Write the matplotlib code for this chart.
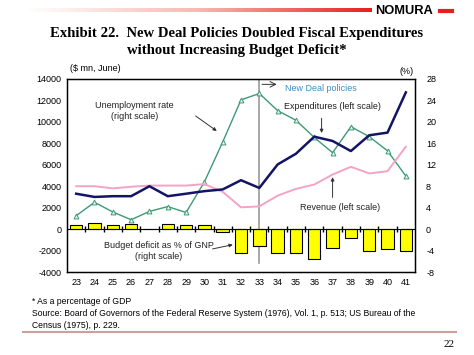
import numpy as np
import matplotlib
matplotlib.use('Agg')
import matplotlib.pyplot as plt
from matplotlib.colors import LinearSegmentedColormap

plt.rcParams['axes.unicode_minus'] = False

years = np.arange(23, 42)
expenditures = [3300, 3000, 3070, 3070, 4000, 3070, 3300, 3540, 3700, 4560, 3840,
                6030, 7030, 8620, 8220, 7280, 8750, 9000, 12750]
revenue = [4000, 4000, 3800, 3950, 4060, 4060, 4060, 4200, 3470, 2030, 2120,
           3120, 3750, 4160, 5090, 5810, 5190, 5400, 7690]
unemployment = [2.5, 5.0, 3.2, 1.75, 3.3, 4.2, 3.1, 8.8, 16.25, 24.1, 25.3,
                22.1, 20.3, 17.1, 14.25, 19.1, 17.25, 14.6, 9.9]
deficit = [0.8, 1.1, 0.8, 0.9, 0.05, 0.9, 0.7, 0.8, -0.6, -4.4, -3.1,
           -4.5, -4.5, -5.6, -3.6, -1.6, -4.0, -3.7, -4.1]

sans = 'Liberation Sans'
serif = 'Liberation Serif'

fig = plt.figure(figsize=(4.74, 3.55), dpi=100)

# header: gradient rule + logo
gax = fig.add_axes([0.06, 0.965, 0.725, 0.012])
grad = np.linspace(0, 1, 256).reshape(1, -1)
cm = LinearSegmentedColormap.from_list('rule', ['#ffffff', '#f7b8b0', '#e8201c'])
gax.imshow(grad, aspect='auto', cmap=cm)
gax.axis('off')
fig.text(0.791, 0.968, 'NOMURA', family=sans, weight='bold', fontsize=9.3, va='center')
fig.add_artist(plt.Line2D([0.928, 0.953], [0.969, 0.969], color='#e8201c', lw=3,
                          transform=fig.transFigure))

fig.text(0.5, 0.905, 'Exhibit 22.  New Deal Policies Doubled Fiscal Expenditures',
         family=serif, weight='bold', fontsize=10.6, ha='center', va='center')
fig.text(0.5, 0.857, 'without Increasing Budget Deficit*',
         family=serif, weight='bold', fontsize=10.6, ha='center', va='center')

ax = fig.add_axes([0.1414, 0.2338, 0.7341, 0.5437])
ax2 = ax.twinx()

ax.set_xlim(22.5, 41.5)
ax.set_ylim(-4000, 14000)
ax2.set_ylim(-8, 28)
ax.set_yticks(np.arange(-4000, 14001, 2000))
ax2.set_yticks(np.arange(-8, 29, 4))
ax.set_xticks(years)
ax.set_xticklabels([str(y) for y in years])
for a in (ax, ax2):
    a.tick_params(labelsize=6.5, length=0, pad=4)
    for lab in a.get_yticklabels() + a.get_xticklabels():
        lab.set_family(sans)
ax2.tick_params(pad=8)
for s in ax.spines.values():
    s.set_linewidth(1.0)

ax.axhline(0, color='black', lw=0.8, zorder=1)
ax.plot(years[:-1] + 0.5, [0] * (len(years) - 1), linestyle='none', marker='|',
        color='black', markersize=4, zorder=3)

ax2.bar(years, deficit, width=0.68, color='#ffff00', edgecolor='black', linewidth=0.8, zorder=2)

ax.plot(years, revenue, color='#f4a3c6', lw=1.4, zorder=4)
ax.plot(years, expenditures, color='#141466', lw=1.8, zorder=5)
ax2.plot(years, unemployment, color='#3d9a76', lw=1.0, marker='^', markersize=3.5,
         markerfacecolor='#e8f4ee', markeredgecolor='#3d9a76', markeredgewidth=0.7, zorder=6)

ax.set_zorder(ax2.get_zorder() + 1)
ax.patch.set_visible(False)

# New Deal marker
ax2.plot([33, 33], [28, -6.25], color='#999999', lw=1.2, zorder=1)
ax2.annotate('', xy=(34.1, 27), xytext=(33, 27),
             arrowprops=dict(arrowstyle='->', color='#333333', lw=0.7))
ax2.text(34.4, 26.2, 'New Deal policies', color='#3a8fcc', fontsize=6.5, family=sans, va='center')

# annotations
kw = dict(fontsize=6.5, family=sans, ha='center', va='center', color='#222222')
ax.text(26.2, 11000, 'Unemployment rate\n(right scale)', **kw)
ax.annotate('', xy=(30.8, 9000), xytext=(29.4, 10700),
            arrowprops=dict(arrowstyle='-|>', color='#333333', lw=0.7, mutation_scale=5))
ax.text(37.0, 11400, 'Expenditures (left scale)', **kw)
ax.annotate('', xy=(36.4, 8700), xytext=(36.4, 10600),
            arrowprops=dict(arrowstyle='-|>', color='#333333', lw=0.7, mutation_scale=5))
ax.text(37.4, 2050, 'Revenue (left scale)', **kw)
ax.annotate('', xy=(37.0, 5100), xytext=(37.0, 2700),
            arrowprops=dict(arrowstyle='-|>', color='#333333', lw=0.7, mutation_scale=5))
ax.text(27.5, -2050, 'Budget deficit as % of GNP\n(right scale)', **kw)
ax.annotate('', xy=(31.7, -1400), xytext=(30.3, -1900),
            arrowprops=dict(arrowstyle='-|>', color='#333333', lw=0.7, mutation_scale=5))

fig.text(0.148, 0.808, '($ mn, June)', fontsize=6.5, family=sans, va='center')
fig.text(0.842, 0.800, '(%)', fontsize=6.5, family=sans, va='center')

# footer
fsz = 6.2
fig.text(0.068, 0.152, '* As a percentage of GDP', fontsize=fsz, family=sans, va='center')
fig.text(0.068, 0.117, 'Source: Board of Governors of the Federal Reserve System (1976), Vol. 1, p. 513; US Bureau of the',
         fontsize=fsz, family=sans, va='center')
fig.text(0.068, 0.083, 'Census (1975), p. 229.', fontsize=fsz, family=sans, va='center')
fig.add_artist(plt.Line2D([0.048, 0.962], [0.065, 0.065], color='#c9a09a', lw=1.5,
                          transform=fig.transFigure))
fig.text(0.948, 0.030, '22', fontsize=8, family=serif, ha='center', va='center')

fig.savefig('out.png', dpi=100)
